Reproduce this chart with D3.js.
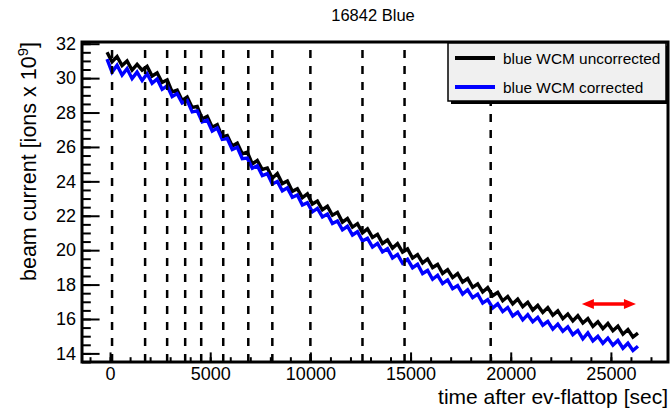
<!DOCTYPE html>
<html>
<head>
<meta charset="utf-8">
<script src="https://cdn.jsdelivr.net/npm/d3@7"></script>
<style>
  body { margin: 0; background: #fff; }
  svg { display: block; font-family: "Liberation Sans", Arial, sans-serif; }
</style>
</head>
<body>
<div class="canvas"></div>
<script>
// Data
const chartTitle = '16842 Blue'
const seriesNames = ['blue WCM uncorrected', 'blue WCM corrected']
const seriesColors = ['#000000', '#0000ff']

// samples every 250 s starting at -150 s
const sampleTimes = d3.range(-150, 26351, 250)

const uncorrected = [
  31.5, 30.95, 31.25, 30.73, 31.0, 30.47, 30.8, 30.46, 30.68, 30.12,
  30.3, 29.75, 29.9, 29.2, 29.3, 28.7, 28.9, 28.3, 28.35, 27.63,
  27.78, 27.15, 27.3, 26.59, 26.67, 26.05, 26.22, 25.6, 25.7, 25.01,
  25.21, 24.69, 24.78, 24.18, 24.45, 23.87, 24.02, 23.42, 23.57, 23.05,
  23.27, 22.68, 22.85, 22.35, 22.55, 22.03, 22.2, 21.63, 21.84, 21.34,
  21.54, 21.01, 21.24, 20.74, 20.92, 20.39, 20.59, 20.12, 20.38, 19.89,
  20.07, 19.54, 19.74, 19.26, 19.49, 18.99, 19.17, 18.65, 18.87, 18.41,
  18.64, 18.15, 18.35, 17.84, 18.04, 17.57, 17.82, 17.35, 17.55, 17.06,
  17.31, 16.88, 17.16, 16.72, 16.97, 16.52, 16.79, 16.38, 16.66, 16.22,
  16.47, 16.02, 16.29, 15.89, 16.19, 15.77, 16.02, 15.57, 15.84, 15.44,
  15.74, 15.32, 15.58, 15.12, 15.39, 14.95, 15.18
]

const corrected = [
  31.1, 30.35, 30.75, 30.18, 30.55, 29.97, 30.35, 29.86, 30.26, 29.7,
  29.95, 29.35, 29.55, 28.93, 29.1, 28.55, 28.7, 28.04, 28.1, 27.46,
  27.56, 26.92, 27.1, 26.44, 26.49, 25.85, 25.98, 25.32, 25.35, 24.76,
  24.91, 24.34, 24.45, 23.85, 23.99, 23.45, 23.62, 23.07, 23.21, 22.62,
  22.76, 22.23, 22.43, 21.93, 22.1, 21.55, 21.7, 21.18, 21.39, 20.88,
  21.07, 20.53, 20.69, 20.18, 20.39, 19.9, 20.09, 19.55, 19.75, 19.24,
  19.47, 18.98, 19.18, 18.64, 18.82, 18.31, 18.54, 18.06, 18.27, 17.76,
  17.94, 17.45, 17.7, 17.24, 17.44, 16.92, 17.12, 16.64, 16.88, 16.43,
  16.67, 16.18, 16.4, 15.95, 16.25, 15.84, 16.1, 15.64, 15.86, 15.41,
  15.7, 15.29, 15.55, 15.09, 15.33, 14.85, 15.19, 14.73, 14.99, 14.59,
  14.89, 14.48, 14.75, 14.3, 14.59, 14.17, 14.42
]

// dashed marker times [sec]
const markerTimes = [100, 1750, 2850, 3750, 4550, 5650, 6900, 8100, 10000, 12600, 14700, 19000]

// red double arrow: [start, end] time and level
const arrowTimes = [23550, 26250]
const arrowLevel = 16.87

const xTicks = [0, 5000, 10000, 15000, 20000, 25000]
const yTicks = [14, 16, 18, 20, 22, 24, 26, 28, 30, 32]

// Layout
const size = { width: 670, height: 409 }
const frame = { left: 82, right: 668, top: 42, bottom: 362 }

const svg = d3.select('.canvas')
  .append('svg')
    .attr('width', size.width)
    .attr('height', size.height)

const x = d3.scaleLinear()
  .domain([-1400, 27850])
  .range([frame.left, frame.right])

const y = d3.scaleLinear()
  .domain([13.5, 32.1])
  .range([frame.bottom, frame.top])

const plotW = frame.right - frame.left
const plotH = frame.bottom - frame.top

// Axes (ROOT style: ticks inside the frame)
const yMajor = d3.axisLeft(y).tickValues(yTicks).tickSize(-0.03 * plotW).tickPadding(6).tickFormat(d3.format('d'))
const yMinor = d3.axisLeft(y).tickValues(d3.range(13.5, 32.01, 0.5)).tickSize(-0.015 * plotW).tickFormat('')
const xMajor = d3.axisBottom(x).tickValues(xTicks).tickSize(-0.03 * plotH).tickPadding(5).tickFormat(d3.format('d'))
const xMinor = d3.axisBottom(x).tickValues(d3.range(-1000, 27001, 1000)).tickSize(-0.015 * plotH).tickFormat('')

const styleAxis = g => {
  g.select('.domain').remove()
  g.selectAll('line').attr('stroke', '#000').attr('stroke-width', 2)
  g.selectAll('text')
    .attr('fill', '#000')
    .attr('font-size', 18)
    .attr('font-family', '"Liberation Sans", Arial, sans-serif')
}

svg.append('g').attr('transform', `translate(${frame.left},0)`).call(yMinor).call(styleAxis)
svg.append('g').attr('transform', `translate(${frame.left},0)`).call(yMajor).call(styleAxis)
svg.append('g').attr('transform', `translate(0,${frame.bottom})`).call(xMinor).call(styleAxis)
svg.append('g').attr('transform', `translate(0,${frame.bottom})`).call(xMajor).call(styleAxis)

// Curves
const plot = svg.append('g')

const line = d3.line()
  .x(d => x(d[0]))
  .y(d => y(d[1]))

const series = [uncorrected, corrected]
series.forEach((values, i) => {
  plot.append('path')
    .datum(values.map((v, j) => [sampleTimes[j], v]))
    .attr('d', line)
    .attr('fill', 'none')
    .attr('stroke', seriesColors[i])
    .attr('stroke-width', 3.4)
    .attr('stroke-linejoin', 'miter')
})

// Dashed markers
plot.selectAll('line.marker')
  .data(markerTimes)
  .enter()
  .append('line')
    .attr('class', 'marker')
    .attr('x1', d => x(d))
    .attr('x2', d => x(d))
    .attr('y1', frame.bottom)
    .attr('y2', frame.top + 6)
    .attr('stroke', '#000')
    .attr('stroke-width', 2.5)
    .attr('stroke-dasharray', '8,8')

// Red double arrow
const ax1 = x(arrowTimes[0]), ax2 = x(arrowTimes[1]), ay = y(arrowLevel)
const head = 12, half = 5
plot.append('line')
  .attr('x1', ax1 + head - 2).attr('x2', ax2 - head + 2)
  .attr('y1', ay).attr('y2', ay)
  .attr('stroke', '#ff0000')
  .attr('stroke-width', 3.5)
plot.append('path')
  .attr('d', `M${ax1},${ay} L${ax1 + head},${ay - half} L${ax1 + head},${ay + half} Z`)
  .attr('fill', '#ff0000')
plot.append('path')
  .attr('d', `M${ax2},${ay} L${ax2 - head},${ay - half} L${ax2 - head},${ay + half} Z`)
  .attr('fill', '#ff0000')

// Frame
svg.append('rect')
  .attr('x', frame.left)
  .attr('y', frame.top)
  .attr('width', plotW)
  .attr('height', plotH)
  .attr('fill', 'none')
  .attr('stroke', '#000')
  .attr('stroke-width', 3)

// Legend
const legend = { x: 448, y: 43, w: 218, h: 58 }
svg.append('rect')
  .attr('x', legend.x + 3).attr('y', legend.y + 3)
  .attr('width', legend.w).attr('height', legend.h)
  .attr('fill', '#000')
svg.append('rect')
  .attr('x', legend.x).attr('y', legend.y)
  .attr('width', legend.w).attr('height', legend.h)
  .attr('fill', '#f0f0f0')
  .attr('stroke', '#000')
  .attr('stroke-width', 1.5)

seriesNames.forEach((name, i) => {
  const ly = legend.y + 15 + i * 29
  svg.append('line')
    .attr('x1', legend.x + 7).attr('x2', legend.x + 47)
    .attr('y1', ly).attr('y2', ly)
    .attr('stroke', seriesColors[i])
    .attr('stroke-width', 4)
  svg.append('text')
    .attr('x', legend.x + 55)
    .attr('y', ly + 6)
    .attr('font-size', 15.4)
    .attr('fill', '#000')
    .text(name)
})

// Titles
svg.append('text')
  .attr('x', 373)
  .attr('y', 21)
  .attr('text-anchor', 'middle')
  .attr('font-size', 16.5)
  .text(chartTitle)

svg.append('text')
  .attr('x', frame.right)
  .attr('y', 404)
  .attr('text-anchor', 'end')
  .attr('font-size', 21)
  .text('time after ev-flattop [sec]')

const yTitle = svg.append('text')
  .attr('transform', `translate(36,${frame.top}) rotate(-90)`)
  .attr('text-anchor', 'end')
  .attr('font-size', 21.5)
yTitle.append('tspan').text('beam current [ions x 10')
yTitle.append('tspan').attr('dy', -8).attr('font-size', 15).text('9')
yTitle.append('tspan').attr('dy', 8).text(']')
</script>
</body>
</html>
